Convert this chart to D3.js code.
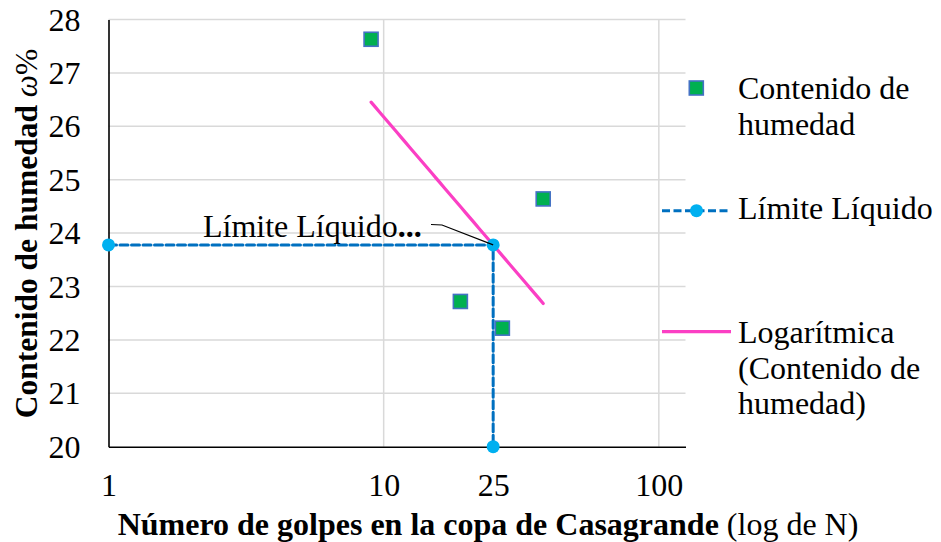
<!DOCTYPE html>
<html>
<head>
<meta charset="utf-8">
<script src="https://cdn.jsdelivr.net/npm/d3@7"></script>
<style>
  html, body { margin: 0; padding: 0; background: #fff; }
  svg { display: block; }
</style>
</head>
<body>
<svg id="chart" width="941" height="542"></svg>
<script>
// Casagrande test: number of blows vs. moisture content
const golpes = [9, 19, 27, 38];
const humedad = [27.63, 22.72, 22.22, 24.64];

// Axis bounds and tick labels
const xBounds = [1, 125];
const yBounds = [20, 28];
const xTickValues = [1, 10, 25, 100];
const xGridValues = [10, 100];
const yTickValues = [20, 21, 22, 23, 24, 25, 26, 27, 28];

// Blow count that defines the liquid limit
const golpesLL = 25;

// Legend entries
const legendLabels = [
  ["Contenido de", "humedad"],
  ["Límite Líquido"],
  ["Logarítmica", "(Contenido de", "humedad)"]
];

const FONT = '"Liberation Serif", "Times New Roman", serif';

// Logarithmic least-squares fit: w = a·ln(N) + b
const lx = golpes.map(Math.log);
const mx = d3.mean(lx), my = d3.mean(humedad);
const sxy = d3.sum(lx, (v, i) => (v - mx) * (humedad[i] - my));
const sxx = d3.sum(lx, v => (v - mx) * (v - mx));
const a = sxy / sxx, b = my - a * mx;
const fit = n => a * Math.log(n) + b;

const limiteLiquido = fit(golpesLL);
const llX = [xBounds[0], golpesLL, golpesLL];
const llY = [limiteLiquido, limiteLiquido, yBounds[0]];

const trendX = d3.range(0, 41).map(i => golpes[0] * Math.pow(golpes[golpes.length - 1] / golpes[0], i / 40));

const svg = d3.select("#chart").style("font-family", FONT);
const plot = { left: 108.5, right: 685.5, top: 19.5, bottom: 446.7 };

const x = d3.scaleLog().domain(xBounds).range([plot.left, plot.right]);
const y = d3.scaleLinear().domain(yBounds).range([plot.bottom, plot.top]);

// Gridlines
svg.append("g").selectAll("line").data(yTickValues.filter(v => v > yBounds[0]))
  .join("line")
  .attr("x1", plot.left).attr("x2", plot.right)
  .attr("y1", d => y(d)).attr("y2", d => y(d))
  .attr("stroke", "#d9d9d9").attr("stroke-width", 1.5);
svg.append("g").selectAll("line").data(xGridValues)
  .join("line")
  .attr("x1", d => x(d)).attr("x2", d => x(d))
  .attr("y1", plot.top).attr("y2", plot.bottom)
  .attr("stroke", "#d9d9d9").attr("stroke-width", 1.5);

// Axes
const xAxis = d3.axisBottom(x).tickValues(xTickValues).tickFormat(d3.format("d")).tickSize(0);
const gx = svg.append("g").attr("transform", `translate(0,${plot.bottom})`).call(xAxis);
gx.attr("font-family", null);
gx.select(".domain").attr("stroke", "#000").attr("stroke-width", 1.6);
gx.selectAll("text").style("font-family", FONT).style("font-size", "32px").attr("fill", "#000")
  .attr("dy", null).attr("y", 49.5);

const yAxis = d3.axisLeft(y).tickValues(yTickValues).tickSize(0).tickPadding(28);
const gy = svg.append("g").attr("transform", `translate(${plot.left},0)`).call(yAxis);
gy.attr("font-family", null);
gy.select(".domain").attr("stroke", "#000").attr("stroke-width", 1.6);
gy.selectAll("text").style("font-family", FONT).style("font-size", "32px").attr("fill", "#000")
  .attr("dy", null).attr("y", 10.5);

// Axis titles
const xt = svg.append("text").attr("x", 488).attr("y", 535).attr("text-anchor", "middle")
  .style("font-family", FONT).style("font-size", "32px");
xt.append("tspan").style("font-weight", "bold").text("Número de golpes en la copa de Casagrande");
xt.append("tspan").text(" (log de N)");

const yt = svg.append("text").attr("transform", "translate(37,233.5) rotate(-90)").attr("text-anchor", "middle")
  .style("font-family", FONT).style("font-size", "31.5px");
yt.append("tspan").style("font-weight", "bold").text("Contenido de humedad ");
yt.append("tspan").style("font-style", "italic").text("ω");
yt.append("tspan").text("%");

// Logarithmic trend line
svg.append("path")
  .datum(trendX)
  .attr("fill", "none").attr("stroke", "#fb3fc4").attr("stroke-width", 3.2).attr("stroke-linecap", "round")
  .attr("d", d3.line().x(d => x(d)).y(d => y(fit(d))));

// Liquid limit guide line
svg.append("path")
  .datum(d3.zip(llX, llY))
  .attr("fill", "none").attr("stroke", "#0070c0").attr("stroke-width", 3).attr("stroke-dasharray", "8,3.5").attr("stroke-linecap", "round")
  .attr("d", d3.line().x(d => x(d[0])).y(d => y(d[1])));
svg.append("g").selectAll("circle").data(d3.zip(llX, llY)).join("circle")
  .attr("cx", d => x(d[0])).attr("cy", d => y(d[1])).attr("r", 6.5).attr("fill", "#00b0f0");

// Data label with leader line
const llPt = [x(golpesLL), y(limiteLiquido)];
svg.append("path")
  .attr("d", `M${llPt[0]},${llPt[1]} L442,225 L431,224.5`)
  .attr("fill", "none").attr("stroke", "#000").attr("stroke-width", 1.2);
const dl = svg.append("text").attr("x", 203).attr("y", 237)
  .style("font-family", FONT).style("font-size", "32px");
dl.append("tspan").text("Límite Líquido");
dl.append("tspan").style("font-weight", "bold").text("...");

// Measured points
const sq = 14;
svg.append("g").selectAll("rect").data(d3.zip(golpes, humedad)).join("rect")
  .attr("x", d => x(d[0]) - sq / 2).attr("y", d => y(d[1]) - sq / 2)
  .attr("width", sq).attr("height", sq)
  .attr("fill", "#00b050").attr("stroke", "#4472c4").attr("stroke-width", 1.6);

// Legend
const lg = svg.append("g");
lg.append("rect").attr("x", 696.3 - sq / 2).attr("y", 88 - sq / 2).attr("width", sq).attr("height", sq)
  .attr("fill", "#00b050").attr("stroke", "#4472c4").attr("stroke-width", 1.6);
lg.append("line").attr("x1", 662).attr("x2", 731).attr("y1", 210.7).attr("y2", 210.7)
  .attr("stroke", "#0070c0").attr("stroke-width", 3).attr("stroke-dasharray", "8,3.5");
lg.append("circle").attr("cx", 696.5).attr("cy", 210.7).attr("r", 6.5).attr("fill", "#00b0f0");
lg.append("line").attr("x1", 662).attr("x2", 731).attr("y1", 331.7).attr("y2", 331.7)
  .attr("stroke", "#fb3fc4").attr("stroke-width", 3.2);

const legendBaselines = [99.3, 219.3, 342.7];
legendLabels.forEach((lines, i) => {
  const t = lg.append("text").attr("x", 738).attr("y", legendBaselines[i])
    .style("font-family", FONT).style("font-size", "32px");
  lines.forEach((s, j) => t.append("tspan").attr("x", 738).attr("dy", j === 0 ? 0 : 35.8).text(s));
});
</script>
</body>
</html>
